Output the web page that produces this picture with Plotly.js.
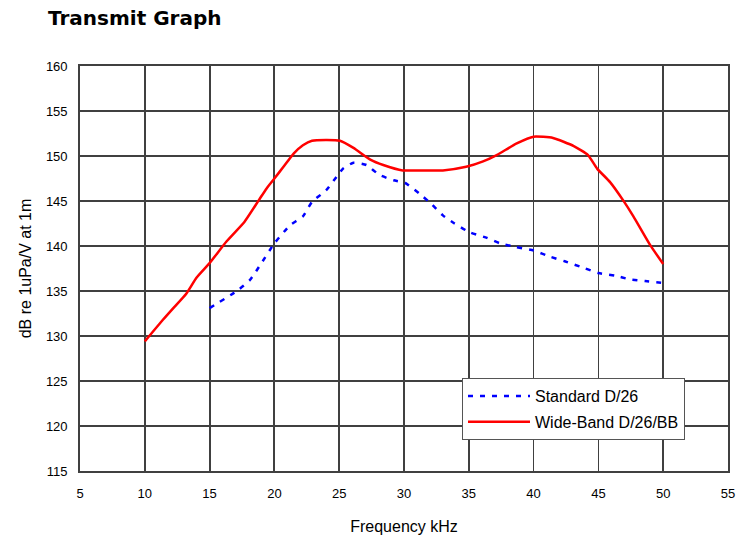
<!DOCTYPE html>
<html>
<head>
<meta charset="utf-8">
<script src="https://cdn.plot.ly/plotly-3.0.1.min.js"></script>
<style>html,body{margin:0;padding:0;background:#fff;}#chart{width:736px;height:537px;}</style>
</head>
<body>
<div id="chart"></div>
<script>
const stdFreq = [15.0, 17.1, 18.1, 19.0, 20.0, 21.2, 22.2, 22.9, 24.0, 24.8, 25.3, 26.1, 27.1, 28.1, 29.2, 30.1, 31.2, 32.1, 33.0, 33.9, 35.1, 36.4, 37.4, 38.6, 40.0, 41.3, 42.4, 43.6, 45.0, 46.3, 47.4, 48.6, 50.0];
const stdDb   = [133.1, 135.0, 136.2, 138.1, 140.3, 142.3, 143.3, 144.9, 146.2, 147.7, 148.6, 149.25, 149.0, 147.9, 147.3, 147.0, 145.8, 144.7, 143.4, 142.5, 141.5, 140.9, 140.3, 139.9, 139.5, 138.8, 138.3, 137.7, 137.0, 136.7, 136.3, 136.1, 135.9];

const wbFreq = [10.0, 11.4, 12.2, 13.2, 14.0, 15.0, 16.3, 17.7, 18.8, 19.4, 20.0, 20.7, 21.5, 22.2, 22.9, 25.06, 26.1, 27.4, 28.4, 29.9, 31.0, 33.0, 34.8, 36.1, 37.15, 38.7, 40.0, 41.5, 43.1, 44.2, 44.9, 45.9, 46.9, 47.7, 49.0, 50.0];
const wbDb   = [129.4, 131.8, 133.1, 134.7, 136.5, 138.1, 140.5, 142.7, 145.1, 146.4, 147.5, 148.8, 150.3, 151.2, 151.7, 151.7, 150.9, 149.6, 149.0, 148.4, 148.4, 148.4, 148.8, 149.4, 150.1, 151.4, 152.15, 152.0, 151.1, 150.1, 148.6, 147.1, 145.1, 143.3, 140.1, 138.0];

const xTicks = [5, 10, 15, 20, 25, 30, 35, 40, 45, 50, 55];
const yTicks = [115, 120, 125, 130, 135, 140, 145, 150, 155, 160];

const seriesNames = ["Standard D/26", "Wide-Band D/26/BB"];

const traces = [
  {
    x: stdFreq, y: stdDb, type: "scatter", mode: "lines", name: seriesNames[0],
    legendgroup: "a",
    line: {color: "#0000ff", width: 2.5, dash: "5px,7px", shape: "spline", smoothing: 0.5}
  },
  {
    x: wbFreq, y: wbDb, type: "scatter", mode: "lines", name: seriesNames[1],
    legendgroup: "b",
    line: {color: "#ff0000", width: 2.5, shape: "spline", smoothing: 0.5}
  }
];

const fam = "Liberation Sans, Arial, sans-serif";
const axisFont = {family: fam, size: 13, color: "#000"};

const layout = {
  width: 736, height: 537,
  margin: {l: 80, r: 8, t: 66, b: 66},
  paper_bgcolor: "#fff", plot_bgcolor: "#fff",
  title: {
    text: "<b>Transmit Graph</b>",
    font: {family: "DejaVu Sans, sans-serif", size: 20, color: "#000"},
    xref: "container", yref: "container",
    x: 48/736, xanchor: "left",
    y: 1 - 18/537, yanchor: "middle"
  },
  xaxis: {
    range: [5, 55], tickvals: xTicks, ticktext: xTicks.map(String),
    showgrid: true, gridcolor: "#404040", gridwidth: 1.8,
    showline: true, linecolor: "#404040", linewidth: 1.8, mirror: true,
    zeroline: false, ticks: "", ticklabelstandoff: 10,
    tickfont: axisFont,
    title: {text: "Frequency kHz", font: {family: fam, size: 16, color: "#000"}, standoff: 20}
  },
  yaxis: {
    range: [115, 160], tickvals: yTicks, ticktext: yTicks.map(String),
    showgrid: true, gridcolor: "#404040", gridwidth: 1.8,
    showline: true, linecolor: "#404040", linewidth: 1.8, mirror: true,
    zeroline: false, ticks: "", ticklabelstandoff: 8,
    tickfont: axisFont,
    title: {text: "dB re 1uPa/V at 1m", font: {family: fam, size: 16, color: "#000"}, standoff: 10}
  },
  showlegend: true,
  legend: {
    x: (462-80)/648, y: (471-378)/405, xanchor: "left", yanchor: "top",
    bgcolor: "#fff", bordercolor: "#555", borderwidth: 1,
    font: {family: fam, size: 16, color: "#000"},
    tracegroupgap: 2,
    itemwidth: 62
  }
};

Plotly.newPlot("chart", traces, layout, {displayModeBar: false, staticPlot: true});
</script>
</body>
</html>
